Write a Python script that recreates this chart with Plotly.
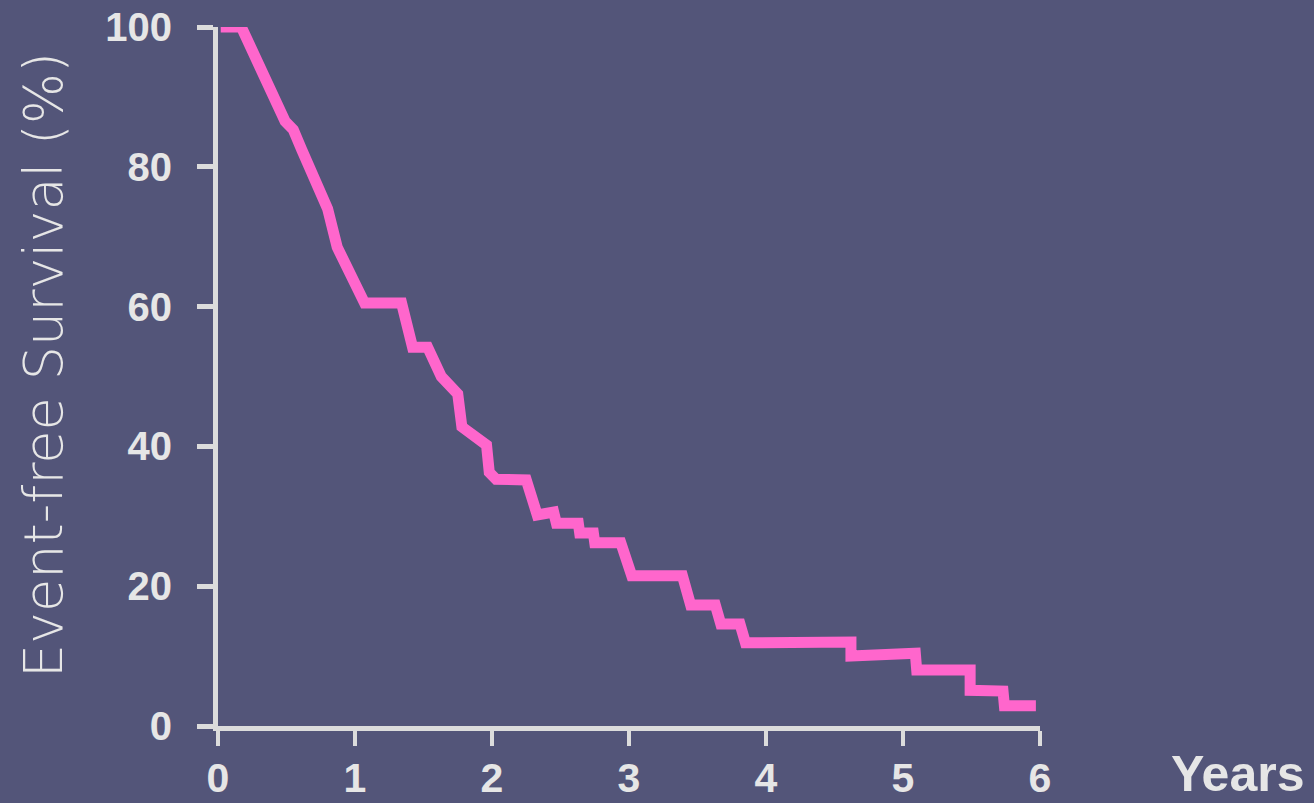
import plotly.graph_objects as go

# Data (Kaplan-Meier-like curve)
years = [0.02, 0.17, 0.49, 0.55, 0.61, 0.80, 0.87, 1.07, 1.34, 1.42, 1.53, 1.63, 1.75, 1.78,
         1.96, 1.98, 2.03, 2.25, 2.33, 2.45, 2.47, 2.63, 2.64, 2.74, 2.75, 2.94, 3.02, 3.39,
         3.45, 3.63, 3.67, 3.81, 3.85, 4.62, 4.62, 5.09, 5.10, 5.49, 5.49, 5.73, 5.74, 5.97]
survival = [100, 100, 86.5, 85.3, 82.5, 74.0, 68.5, 60.5, 60.5, 54.2, 54.2, 50.0, 47.5, 42.8,
            40.2, 36.3, 35.3, 35.2, 30.2, 30.6, 29.0, 29.0, 27.6, 27.6, 26.2, 26.2, 21.5, 21.5,
            17.3, 17.3, 14.6, 14.6, 11.9, 12.0, 10.0, 10.4, 8.0, 8.0, 5.1, 5.0, 2.9, 2.9]

x_ticks = [0, 1, 2, 3, 4, 5, 6]
y_ticks = [0, 20, 40, 60, 80, 100]

BG = "#535579"
AXIS = "#dcdcdc"
TXT = "#e6e6e6"

fig = go.Figure()
fig.add_trace(go.Scatter(
    x=years, y=survival, mode="lines",
    line=dict(color="#ff66cc", width=11),
    cliponaxis=False, hoverinfo="skip", showlegend=False,
))

fig.update_layout(
    width=1314, height=803,
    paper_bgcolor=BG, plot_bgcolor=BG,
    margin=dict(l=218, r=274, t=27, b=77),
    xaxis=dict(
        range=[0, 6], tickvals=x_ticks, ticktext=[str(v) for v in x_ticks],
        showgrid=False, zeroline=False, automargin=False,
        showline=True, linecolor=AXIS, linewidth=5,
        ticks="outside", ticklen=15, tickwidth=4, tickcolor=AXIS,
        tickfont=dict(family="Liberation Sans", size=41, color=TXT, weight="bold"),
        ticklabelstandoff=-3,
    ),
    yaxis=dict(
        range=[0, 100], tickvals=y_ticks, ticktext=[str(v) for v in y_ticks],
        showgrid=False, zeroline=False, automargin=False,
        showline=True, linecolor=AXIS, linewidth=5,
        ticks="outside", ticklen=16, tickwidth=5, tickcolor=AXIS,
        tickfont=dict(family="Liberation Sans", size=40, color=TXT, weight="bold"),
        ticklabelstandoff=17,
    ),
    annotations=[
        dict(text="Years", xref="paper", yref="paper",
             x=(1237 - 218) / 822, y=(726 - 774) / 699,
             xanchor="center", yanchor="middle", showarrow=False,
             font=dict(family="Liberation Sans", size=50, color=TXT, weight="bold")),
        dict(text="Event-free Survival (%)", xref="paper", yref="paper",
             x=(43 - 218) / 822, y=(726 - 365) / 699, textangle=-90,
             xanchor="center", yanchor="middle", showarrow=False,
             font=dict(family="DejaVu Sans", size=54, color=TXT, weight=200)),
    ],
)

fig.write_html("out.html",
               config={"displayModeBar": False},
               post_script="document.body.style.margin='0';document.body.style.overflow='hidden';")
